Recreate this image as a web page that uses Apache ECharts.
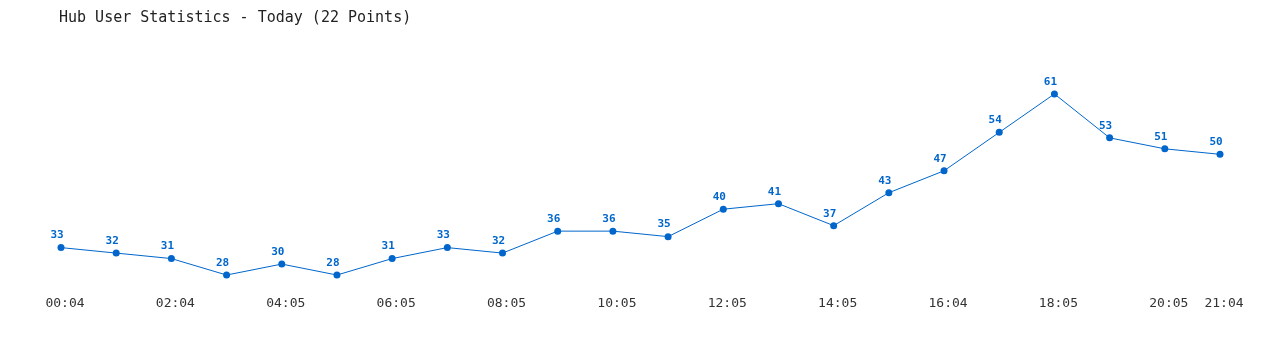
<!DOCTYPE html>
<html><head><meta charset="utf-8">
<script src="https://cdn.jsdelivr.net/npm/echarts@6/dist/echarts.min.js"></script>
<style>html,body{margin:0;padding:0;background:#fff}#c{width:1280px;height:350px}</style>
</head><body><div id="c"></div>
<script>
var titleText = 'Hub User Statistics - Today (22 Points)';
var categories = ['00:04','01:04','02:04','03:05','04:05','05:05','06:05','07:05','08:05','09:05','10:05','11:05','12:05','13:05','14:05','15:05','16:04','17:05','18:05','19:05','20:05','21:04'];
var users = [33,32,31,28,30,28,31,33,32,36,36,35,40,41,37,43,47,54,61,53,51,50];

var chart = echarts.init(document.getElementById('c'), null, {renderer:'canvas'});
chart.setOption({
  animation:false,
  backgroundColor:'#ffffff',
  title:{text:titleText,left:59,top:9,padding:0,textStyle:{fontFamily:'DejaVu Sans Mono',fontSize:15,fontWeight:'normal',color:'#222',lineHeight:18}},
  grid:{left:61,right:60,top:72,bottom:58.5},
  xAxis:{type:'category',data:categories,boundaryGap:false,
    axisLine:{show:false},axisTick:{show:false},splitLine:{show:false},
    axisLabel:{margin:6,fontFamily:'DejaVu Sans Mono',fontSize:13,color:'#333',
      padding:[0,0,0,8],
      interval:function(i){return i%2===0||i===categories.length-1;}}},
  yAxis:{type:'value',min:25,max:65,show:false,splitLine:{show:false}},
  series:[{type:'line',data:users,symbol:'circle',symbolSize:7,
    itemStyle:{color:'#0066cc'},lineStyle:{color:'#0066cc',width:1},
    label:{show:true,position:'top',distance:3,offset:[-4,0],fontFamily:'DejaVu Sans Mono',fontSize:11,fontWeight:'bold',color:'#0066cc'}}]
});
</script></body></html>
